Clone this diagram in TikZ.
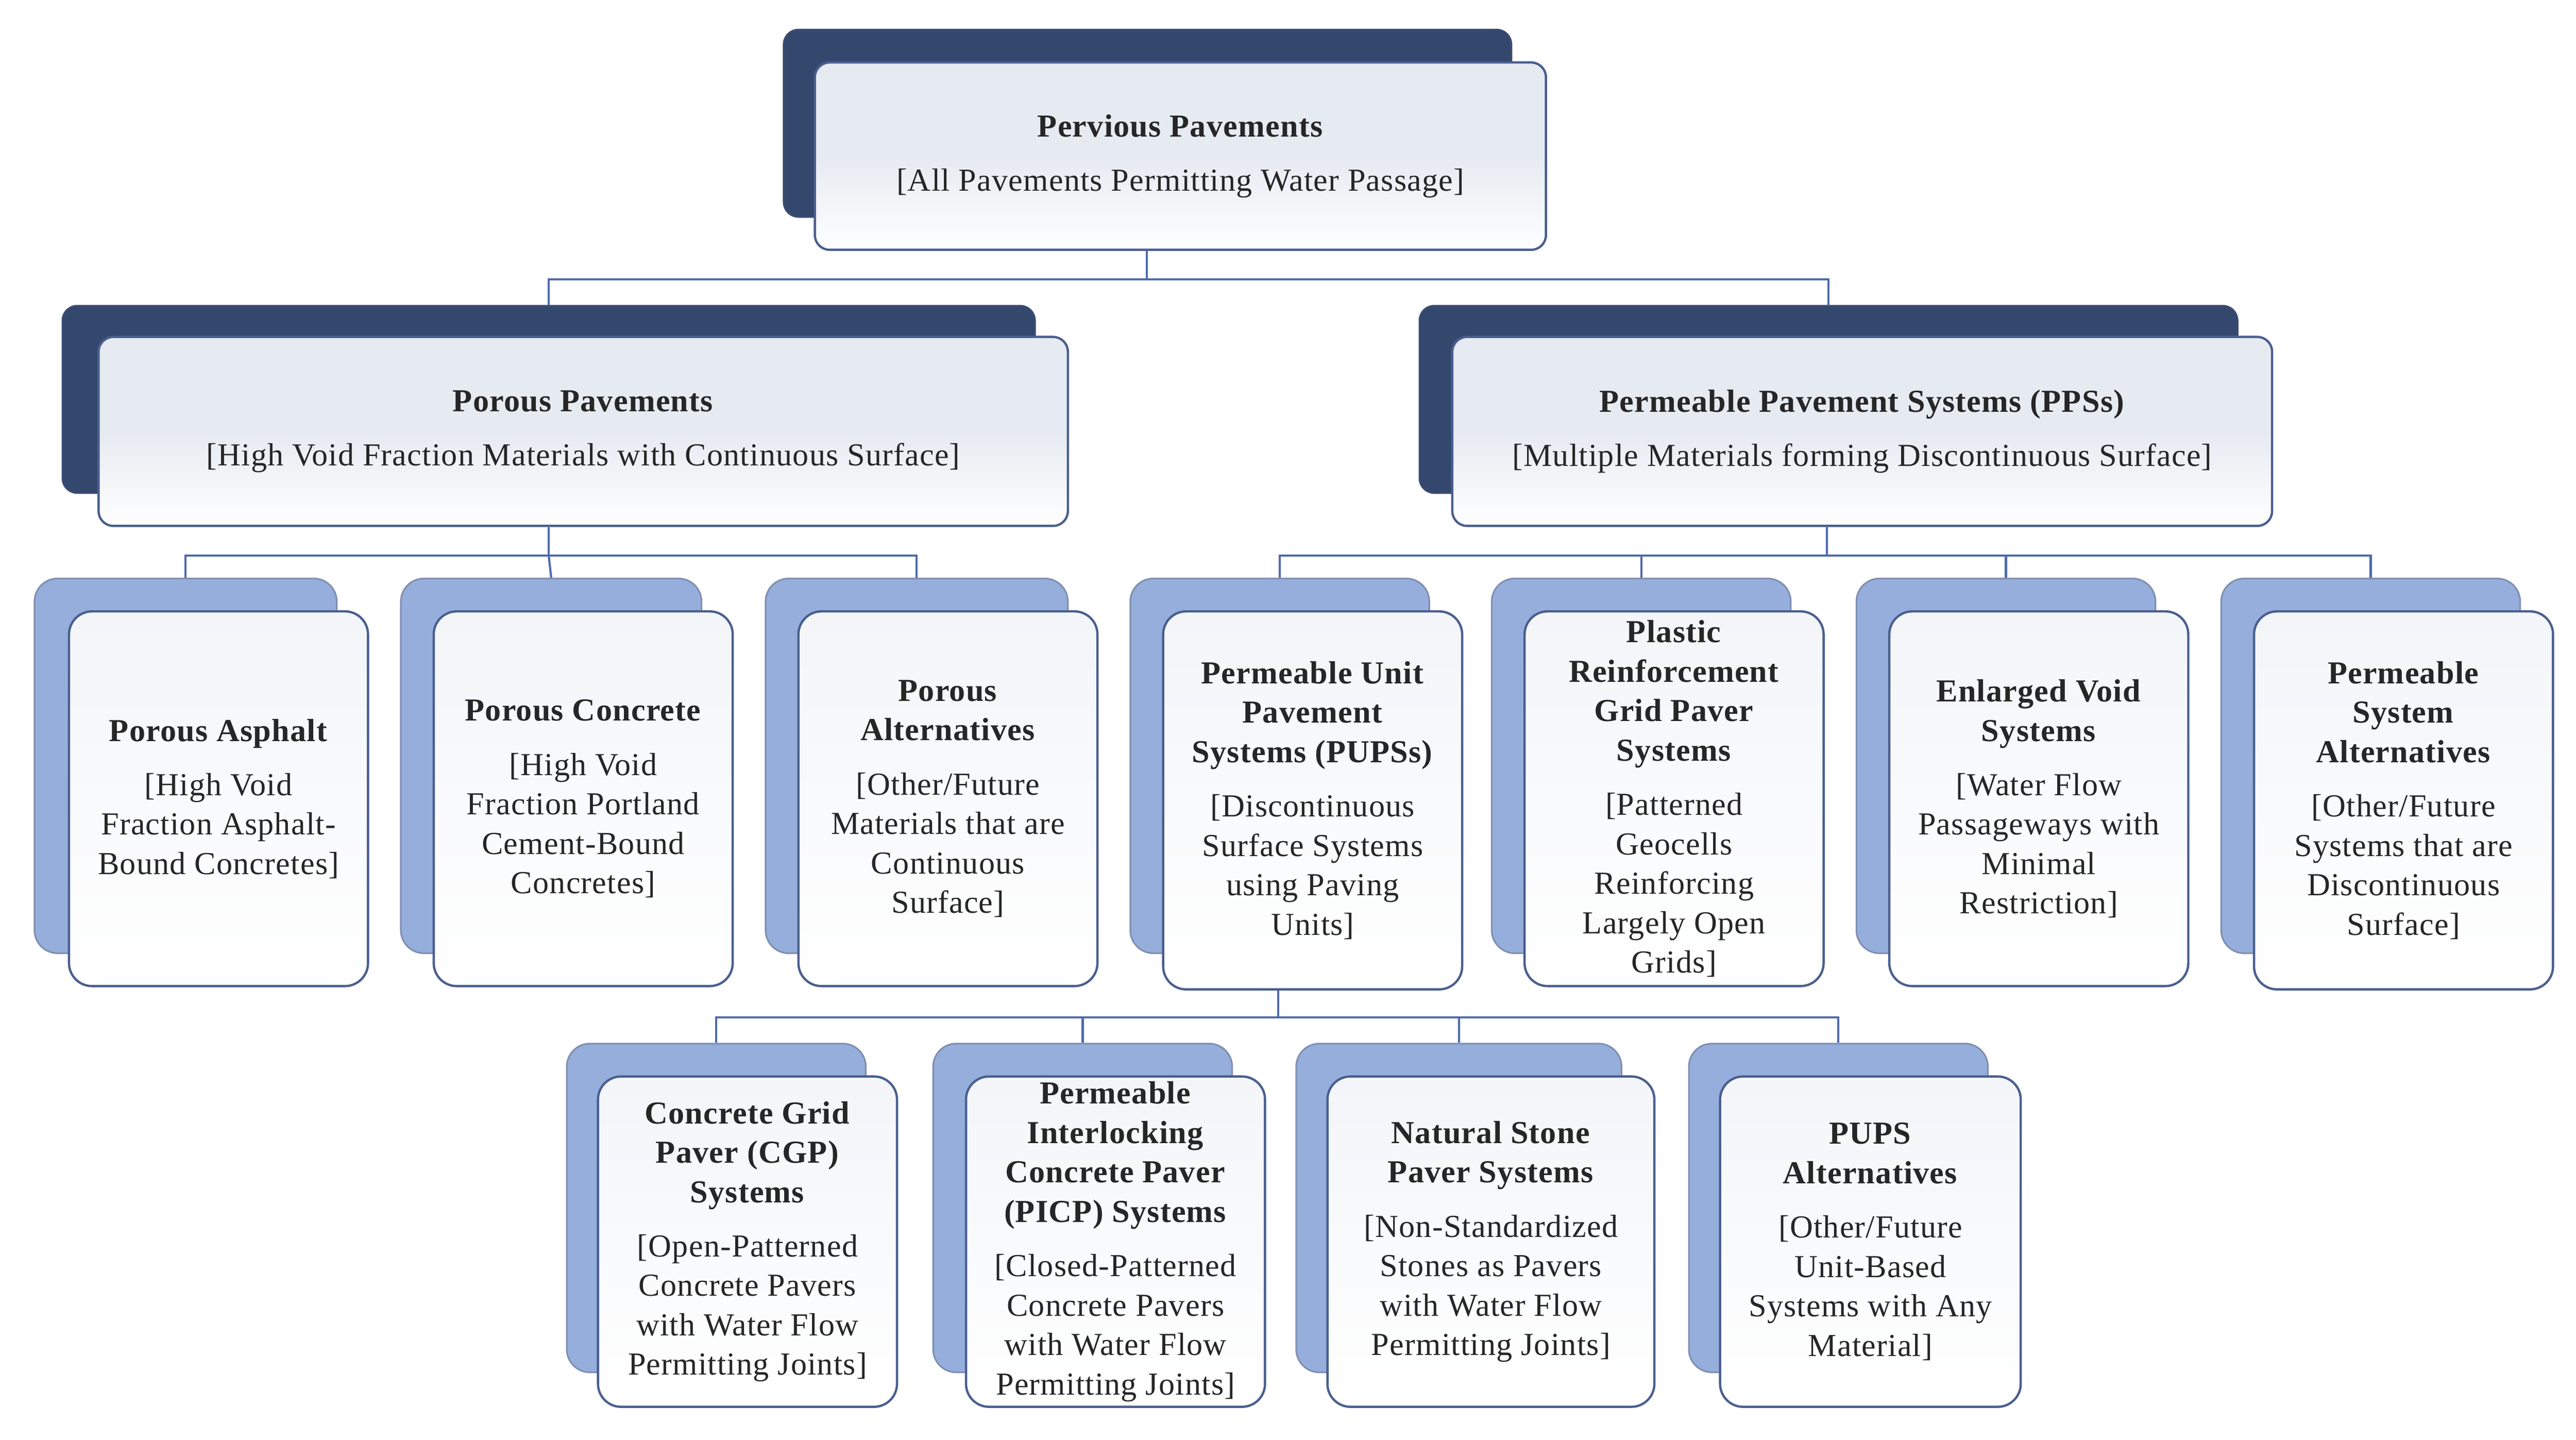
\documentclass[tikz,border=0pt]{standalone}
\usepackage{fontspec}
\setmainfont{Liberation Serif}[LetterSpace=2]
\usetikzlibrary{fit}
\definecolor{navy}{HTML}{34486E}
\definecolor{lblue}{HTML}{95AEDB}
\definecolor{edge}{HTML}{4A5F8F}
\definecolor{conn}{HTML}{4F6AAE}
\definecolor{frontA}{HTML}{E6EAF1}
\definecolor{frontB}{HTML}{F3F5F8}
\begin{document}
\begin{tikzpicture}[x=1pt,y=-1pt,
  backD/.style={draw=edge!80!black,line width=1pt,fill=navy,rounded corners=9pt,inner sep=0pt},
  backL/.style={draw=edge!70,line width=1pt,fill=lblue,rounded corners=14pt,inner sep=0pt},
  frontD/.style={draw=edge,line width=1.4pt,top color=frontA,bottom color=white,middle color=frontA,rounded corners=9pt,inner sep=0pt},
  frontL/.style={draw=edge,line width=1.4pt,top color=frontB,bottom color=white,rounded corners=14pt,inner sep=0pt},
  txt/.style={align=center,font=\fontsize{19.5}{24}\selectfont,text=black!85,inner sep=0pt},
  conn/.style={draw=conn,line width=1.3pt}]
\useasboundingbox (0,0) rectangle (1568,876);
% ---- level 1
\node[backD,fit={(477,18)(920,132)}] (b0) {};
\node[frontD,fit={(496,38)(941,152)}] (f0) {};
\node[txt] (t0) at (f0) {\textbf{Pervious Pavements}\\[9pt][All Pavements Permitting Water Passage]};
% ---- level 2
\node[backD,fit={(38,186)(630,300)}] (b1) {};
\node[frontD,fit={(60,205)(650,320)}] (f1) {};
\node[txt] at (f1) {\textbf{Porous Pavements}\\[9pt][High Void Fraction Materials with Continuous Surface]};
\node[backD,fit={(864,186)(1362,300)}] (b2) {};
\node[frontD,fit={(884,205)(1383,320)}] (f2) {};
\node[txt] at (f2) {\textbf{Permeable Pavement Systems (PPSs)}\\[9pt][Multiple Materials forming Discontinuous Surface]};
% ---- level 3
\node[backL,fit={(21,352)(205,580)}] (b11) {};
\node[frontL,fit={(42,372)(224,600)}] (f11) {};
\node[txt] at (f11) {\textbf{Porous Asphalt}\\[9pt][High Void\\Fraction Asphalt-\\Bound Concretes]};
\node[backL,fit={(244,352)(427,580)}] (b12) {};
\node[frontL,fit={(264,372)(446,600)}] (f12) {};
\node[txt] at (f12) {\textbf{Porous Concrete}\\[9pt][High Void\\Fraction Portland\\Cement-Bound\\Concretes]};
\node[backL,fit={(466,352)(650,580)}] (b13) {};
\node[frontL,fit={(486,372)(668,600)}] (f13) {};
\node[txt] at (f13) {\textbf{Porous}\\\textbf{Alternatives}\\[9pt][Other/Future\\Materials that are\\Continuous\\Surface]};
\node[backL,fit={(688,352)(870,580)}] (b21) {};
\node[frontL,fit={(708,372)(890,602)}] (f21) {};
\node[txt] at (f21) {\textbf{Permeable Unit}\\\textbf{Pavement}\\\textbf{Systems (PUPSs)}\\[9pt][Discontinuous\\Surface Systems\\using Paving\\Units]};
\node[backL,fit={(908,352)(1090,580)}] (b22) {};
\node[frontL,fit={(928,372)(1110,600)}] (f22) {};
\node[txt] at (f22) {\textbf{Plastic}\\\textbf{Reinforcement}\\\textbf{Grid Paver}\\\textbf{Systems}\\[9pt][Patterned\\Geocells\\Reinforcing\\Largely Open\\Grids]};
\node[backL,fit={(1130,352)(1312,580)}] (b23) {};
\node[frontL,fit={(1150,372)(1332,600)}] (f23) {};
\node[txt] at (f23) {\textbf{Enlarged Void}\\\textbf{Systems}\\[9pt][Water Flow\\Passageways with\\Minimal\\Restriction]};
\node[backL,fit={(1352,352)(1534,580)}] (b24) {};
\node[frontL,fit={(1372,372)(1554,602)}] (f24) {};
\node[txt] at (f24) {\textbf{Permeable}\\\textbf{System}\\\textbf{Alternatives}\\[9pt][Other/Future\\Systems that are\\Discontinuous\\Surface]};
% ---- level 4
\node[backL,fit={(345,635)(527,835)}] (b31) {};
\node[frontL,fit={(364,655)(546,856)}] (f31) {};
\node[txt] at (f31) {\textbf{Concrete Grid}\\\textbf{Paver (CGP)}\\\textbf{Systems}\\[9pt][Open-Patterned\\Concrete Pavers\\with Water Flow\\Permitting Joints]};
\node[backL,fit={(568,635)(750,835)}] (b32) {};
\node[frontL,fit={(588,655)(770,856)}] (f32) {};
\node[txt] at (f32) {\textbf{Permeable}\\\textbf{Interlocking}\\\textbf{Concrete Paver}\\\textbf{(PICP) Systems}\\[9pt][Closed-Patterned\\Concrete Pavers\\with Water Flow\\Permitting Joints]};
\node[backL,fit={(789,635)(987,835)}] (b33) {};
\node[frontL,fit={(808,655)(1007,856)}] (f33) {};
\node[txt] at (f33) {\textbf{Natural Stone}\\\textbf{Paver Systems}\\[9pt][Non-Standardized\\Stones as Pavers\\with Water Flow\\Permitting Joints]};
\node[backL,fit={(1028,635)(1210,835)}] (b34) {};
\node[frontL,fit={(1047,655)(1230,856)}] (f34) {};
\node[txt] at (f34) {\textbf{PUPS}\\\textbf{Alternatives}\\[9pt][Other/Future\\Unit-Based\\Systems with Any\\Material]};
% ---- connectors
\coordinate (j0) at (698,170);
\draw[conn] (f0.south -| j0) -- (j0) -| (b1.north);
\draw[conn] (j0) -| (b2.north);
\coordinate (j1) at (334,338);
\draw[conn] (f1.south -| j1) -- (j1) -| (b11.north);
\draw[conn] (j1) -| (b13.north);
\draw[conn] (j1) -- (b12.north);
\coordinate (j2) at (1112,338);
\draw[conn] (f2.south -| j2) -- (j2) -| (b21.north);
\draw[conn] (j2) -| (b22.north);
\draw[conn] (j2) -| (b23.north);
\draw[conn] (j2) -| (b24.north);
\coordinate (j3) at (778,619);
\draw[conn] (f21.south -| j3) -- (j3) -| (b31.north);
\draw[conn] (j3) -| (b32.north);
\draw[conn] (j3) -| (b33.north);
\draw[conn] (j3) -| (b34.north);
\end{tikzpicture}
\end{document}
